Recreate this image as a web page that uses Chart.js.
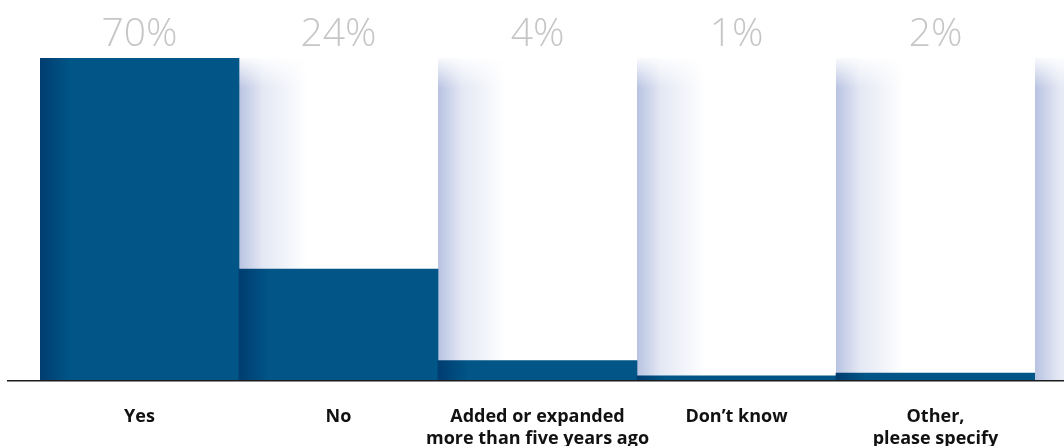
<!DOCTYPE html>
<html>
<head>
<meta charset="utf-8">
<script src="https://cdn.jsdelivr.net/npm/chart.js@4.4.0/dist/chart.umd.min.js"></script>
<style>
  html, body { margin: 0; padding: 0; background: #fff; }
  #wrap { position: relative; width: 1064px; height: 446px; }
</style>
</head>
<body>
<div id="wrap"><canvas id="chart"></canvas></div>
<script>
const categories = ["Yes", "No", ["Added or expanded", "more than five years ago"], "Don’t know", ["Other,", "please specify"]];
const shares = [70, 24.1, 4.2, 0.9, 1.5];
const shareLabels = ["70%", "24%", "4%", "1%", "2%"];
const scaleMax = 70;

const barColor = "#015587";
const barEdge = "#003d70";

// light blue shading behind every column (one extra column peeks in at the right edge)
const shadeColumns = {
  id: "shadeColumns",
  beforeDatasetsDraw(chart) {
    const { ctx, chartArea, scales: { x } } = chart;
    const w = x.width / categories.length;
    const h = chartArea.bottom - chartArea.top;
    ctx.save();
    for (let i = 0; i <= categories.length; i++) {
      const left = x.left + i * w;
      const g = ctx.createLinearGradient(left, 0, left + 68, 0);
      g.addColorStop(0, "#b8c3e2");
      g.addColorStop(0.35, "#e4e8f4");
      g.addColorStop(1, "#ffffff");
      ctx.fillStyle = g;
      ctx.fillRect(left, chartArea.top, w, h);
      const fade = ctx.createLinearGradient(0, chartArea.top, 0, chartArea.top + 30);
      fade.addColorStop(0, "rgba(255,255,255,0.9)");
      fade.addColorStop(1, "rgba(255,255,255,0)");
      ctx.fillStyle = fade;
      ctx.fillRect(left, chartArea.top, w, 30);
    }
    ctx.restore();
  },
  afterDatasetsDraw(chart) {
    const { ctx, chartArea } = chart;
    ctx.save();
    ctx.strokeStyle = "#1c1c1c";
    ctx.lineWidth = 1.5;
    ctx.beginPath();
    ctx.moveTo(7, chartArea.bottom + 0.75);
    ctx.lineTo(chart.width, chartArea.bottom + 0.75);
    ctx.stroke();
    ctx.restore();
  },
  afterDraw(chart) {
    const { ctx, scales: { x } } = chart;
    ctx.save();
    ctx.font = "300 39px 'Open Sans', sans-serif";
    ctx.fillStyle = "#c6c6c6";
    ctx.textAlign = "center";
    ctx.textBaseline = "alphabetic";
    shareLabels.forEach((t, i) => ctx.fillText(t, x.getPixelForValue(i), 46));
    ctx.restore();
  }
};

new Chart(document.getElementById("chart"), {
  type: "bar",
  data: {
    labels: categories,
    datasets: [{
      data: shares,
      categoryPercentage: 1,
      barPercentage: 1,
      borderWidth: 0,
      backgroundColor(c) {
        const x = c.chart.scales.x;
        if (!x || !c.chart.chartArea) return barColor;
        const w = x.width / categories.length;
        const left = x.left + c.dataIndex * w;
        if (!Number.isFinite(left) || !Number.isFinite(w)) return barColor;
        const g = c.chart.ctx.createLinearGradient(left, 0, left + 30, 0);
        g.addColorStop(0, barEdge);
        g.addColorStop(1, barColor);
        return g;
      },
    }],
  },
  options: {
    responsive: true,
    maintainAspectRatio: false,
    animation: false,
    layout: { padding: { left: 40, right: 29, top: 58, bottom: 0 } },
    plugins: { legend: { display: false }, tooltip: { enabled: false } },
    scales: {
      y: { display: false, min: 0, max: scaleMax },
      x: {
        grid: { display: false },
        border: { display: false },
        ticks: {
          color: "#111",
          padding: 18,
          maxRotation: 0,
          autoSkip: false,
          font: { family: "'Open Sans', sans-serif", weight: "bold", size: 18, lineHeight: 1.22 },
        },
        afterFit(scale) { scale.height = 66; },
      },
    },
  },
  plugins: [shadeColumns],
});
</script>
</body>
</html>
